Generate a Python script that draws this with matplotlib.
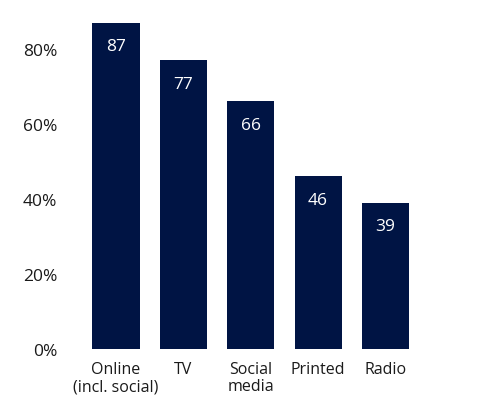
import matplotlib.pyplot as plt

plt.rcParams['font.family'] = ['Open Sans', 'DejaVu Sans']

categories = ["Online\n(incl. social)", "TV", "Social\nmedia", "Printed", "Radio"]
values = [87, 77, 66, 46, 39]
yticks = [0, 20, 40, 60, 80]
ytick_labels = ["0%", "20%", "40%", "60%", "80%"]

bar_color = "#001444"

fig = plt.figure(figsize=(4.96, 4.02), dpi=100)
ax = fig.add_axes([0.166, 0.1294, 0.679, 0.8396])

x = range(len(categories))
bars = ax.bar(x, values, width=0.7, color=bar_color)

for xi, v in zip(x, values):
    ax.annotate(str(v), (xi, v), xytext=(0, -17), textcoords="offset points",
                ha="center", va="center", color="white", fontsize=12.5)

ax.set_xlim(-0.5, len(categories) - 0.5)
ax.set_ylim(0, 90)
ax.set_yticks(yticks)
ax.set_yticklabels(ytick_labels)
ax.set_xticks(list(x))
ax.set_xticklabels(categories, linespacing=1.05)
ax.tick_params(axis="y", length=0, pad=18, labelsize=12.5, colors="#1a1a1a")
ax.tick_params(axis="x", length=0, pad=9, labelsize=11.5, colors="#1a1a1a")
for s in ax.spines.values():
    s.set_visible(False)

fig.savefig("out.png", dpi=100)
